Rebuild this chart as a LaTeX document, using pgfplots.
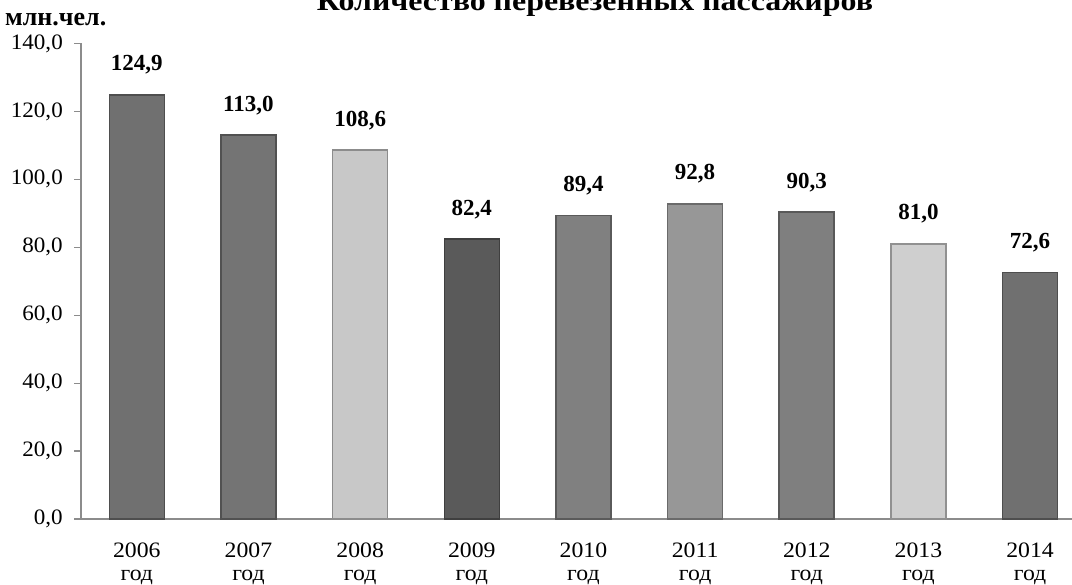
\documentclass[border=0pt]{standalone}
\usepackage{fontspec}
\setmainfont{Liberation Serif}
\newfontfamily\ylabfont{Liberation Serif}[FakeStretch=1.05]
\newfontfamily\xlabfont{Liberation Serif}[FakeStretch=1.08]
\newfontfamily\titlefont{Liberation Serif}[FakeStretch=1.14]
\usepackage{pgfplots}
\pgfplotsset{compat=1.18}

\definecolor{b0}{HTML}{707070}
\definecolor{b1}{HTML}{747474}
\definecolor{b2}{HTML}{C8C8C8}
\definecolor{b3}{HTML}{5A5A5A}
\definecolor{b4}{HTML}{808080}
\definecolor{b5}{HTML}{979797}
\definecolor{b6}{HTML}{7F7F7F}
\definecolor{b7}{HTML}{CFCFCF}
\definecolor{b8}{HTML}{707070}
\definecolor{axgray}{HTML}{8C8C8C}

\begin{document}
\begin{tikzpicture}
\useasboundingbox (0,0) rectangle (1072bp,585bp);
\node[anchor=base, font=\titlefont\bfseries\fontsize{28bp}{28bp}\selectfont] at (595bp,574bp) {Количество перевезенных пассажиров};
\node[anchor=base west, inner sep=0pt, font=\bfseries\fontsize{26bp}{26bp}\selectfont] at (5bp,559bp) {млн.чел.};
\begin{axis}[
  at={(81bp,66bp)}, anchor=south west,
  scale only axis, width=1005bp, height=475.5bp,
  xmin=-0.5, xmax=8.5, ymin=0, ymax=140,
  axis lines*=left,
  axis line style={draw=axgray, line width=1.2bp, -},
  ybar, bar width=55bp,
  every axis plot/.append style={bar shift=0pt, line width=1.6bp},
  xtick={0,...,8},
  xticklabels={2006\\год,2007\\год,2008\\год,2009\\год,2010\\год,2011\\год,2012\\год,2013\\год,2014\\год},
  ytick={0,20,...,140},
  tick align=outside,
  major tick length=7bp,
  x tick style={draw=none},
  y tick style={draw=axgray, line width=1.2bp},
  /pgf/number format/.cd, fixed, fixed zerofill, precision=1, use comma, assume math mode=true,
  /pgfplots/.cd,
  yticklabel style={font=\ylabfont\fontsize{22bp}{22bp}\selectfont, inner sep=0pt, xshift=-11bp},
  xticklabel style={font=\xlabfont\fontsize{22bp}{23bp}\selectfont, align=center, anchor=north, inner sep=0pt, yshift=-17bp},
  nodes near coords,
  nodes near coords style={font=\bfseries\fontsize{23bp}{23bp}\selectfont, anchor=base, inner sep=0pt, yshift=24bp, text=black},
  clip=false,
]
\addplot[fill=b0, draw=b0!70!black] coordinates {(0,124.9)};
\addplot[fill=b1, draw=b1!70!black] coordinates {(1,113.0)};
\addplot[fill=b2, draw=b2!70!black] coordinates {(2,108.6)};
\addplot[fill=b3, draw=b3!70!black] coordinates {(3,82.4)};
\addplot[fill=b4, draw=b4!70!black] coordinates {(4,89.4)};
\addplot[fill=b5, draw=b5!70!black] coordinates {(5,92.8)};
\addplot[fill=b6, draw=b6!70!black] coordinates {(6,90.3)};
\addplot[fill=b7, draw=b7!70!black] coordinates {(7,81.0)};
\addplot[fill=b8, draw=b8!70!black] coordinates {(8,72.6)};
\end{axis}
\end{tikzpicture}
\end{document}
